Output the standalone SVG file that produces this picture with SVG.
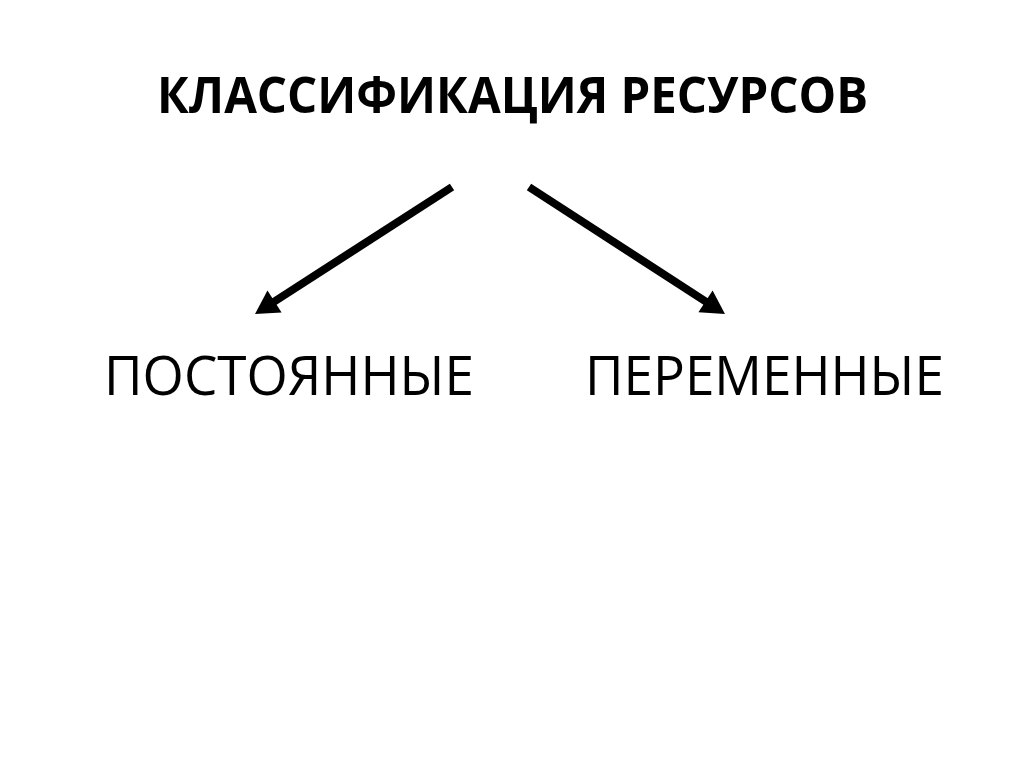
<svg xmlns="http://www.w3.org/2000/svg" width="1024" height="767" viewBox="0 0 1024 767">
<style>
.title{font-family:"Open Sans","Noto Sans","DejaVu Sans",sans-serif;font-weight:bold;font-size:50px;fill:#000}
.label{font-family:"Open Sans","Noto Sans","DejaVu Sans",sans-serif;font-size:54px;fill:#000}
.conn{stroke:#000;stroke-width:8;fill:none;marker-end:url(#arrow)}
</style>
<defs>
<marker id="arrow" markerUnits="strokeWidth" markerWidth="3" markerHeight="3.3" refX="1.4" refY="1.63" orient="auto" overflow="visible">
<path d="M0,0 L2.9,1.63 L0,3.26 z" fill="#000"/>
</marker>
</defs>
<rect width="1024" height="767" fill="#fff"/>
<g id="title"><text class="title" x="157" y="113" textLength="711" lengthAdjust="spacingAndGlyphs">КЛАССИФИКАЦИЯ РЕСУРСОВ</text></g>
<g id="node-postoyannye"><text class="label" x="104" y="395" textLength="370" lengthAdjust="spacingAndGlyphs">ПОСТОЯННЫЕ</text></g>
<g id="node-peremennye"><text class="label" x="585" y="395" textLength="359" lengthAdjust="spacingAndGlyphs">ПЕРЕМЕННЫЕ</text></g>
<g id="connectors">
<line class="conn" x1="452" y1="187" x2="265.1" y2="307.5"/>
<line class="conn" x1="529" y1="187" x2="714.9" y2="307.5"/>
</g>
</svg>
